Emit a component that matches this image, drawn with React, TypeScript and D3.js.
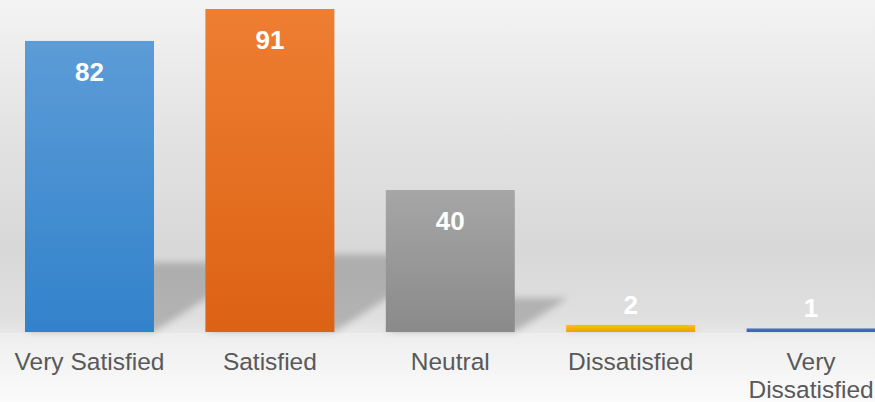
import React from "react";
import * as d3 from "d3";

const categories = ["Very Satisfied", "Satisfied", "Neutral", "Dissatisfied", "Very Dissatisfied"];
const values = [82, 91, 40, 2, 1];
const topColors = ["#5c9cd7", "#ee7e32", "#a6a6a6", "#ffc000", "#4673c6"];
const bottomColors = ["#3282cb", "#dc6214", "#8a8a8a", "#e3a600", "#3b62ae"];

const W = 875;
const H = 402;
const BASE = 332;

export default function App() {
  const x = d3
    .scaleBand<string>()
    .domain(categories)
    .range([-0.7, 901.3])
    .paddingInner(0.285)
    .paddingOuter(0.1425);
  const y = d3.scaleLinear().domain([0, 91]).range([BASE, 9]);
  const bw = x.bandwidth();
  const font = "'Century Gothic', 'Liberation Sans', Arial, sans-serif";

  return (
    <svg
      width={W}
      height={H}
      style={{ position: "absolute", left: 0, top: 0, display: "block" }}
    >
      <defs>
        <linearGradient id="bg" x1="0" y1="0" x2="0" y2="1">
          <stop offset="0" stopColor="#f3f3f3" />
          <stop offset="0.35" stopColor="#e2e2e2" />
          <stop offset="0.62" stopColor="#d8d8d8" />
          <stop offset="0.79" stopColor="#dfdfdf" />
          <stop offset="0.826" stopColor="#e6e6e6" />
          <stop offset="0.83" stopColor="#eeeeee" />
          <stop offset="1" stopColor="#fbfbfb" />
        </linearGradient>
        <filter id="blur" x="-0.3" y="-0.3" width="1.6" height="1.6">
          <feGaussianBlur stdDeviation="3.5" />
        </filter>
        {categories.map((c, i) => (
          <linearGradient key={c} id={`g${i}`} x1="0" y1="0" x2="0" y2="1">
            <stop offset="0" stopColor={topColors[i]} />
            <stop offset="1" stopColor={bottomColors[i]} />
          </linearGradient>
        ))}
      </defs>
      <rect x={0} y={0} width={W} height={H} fill="url(#bg)" />
      <g filter="url(#blur)">
        {categories.map((c, i) => {
          const x0 = x(c)!;
          const x1 = x0 + bw;
          const bh = BASE - y(values[i]);
          const h = 0.24 * bh;
          const dx = 1.55 * h;
          const p = d3.path();
          p.moveTo(x0, BASE);
          p.lineTo(x1, BASE);
          p.lineTo(x1 + dx, BASE - h);
          p.lineTo(x0 + dx, BASE - h);
          p.closePath();
          return <path key={c} d={p.toString()} fill="#000" fillOpacity={0.2} />;
        })}
      </g>
      {categories.map((c, i) => (
        <rect
          key={c}
          x={x(c)}
          y={y(values[i])}
          width={bw}
          height={BASE - y(values[i])}
          fill={`url(#g${i})`}
        />
      ))}
      {categories.map((c, i) => {
        const top = y(values[i]);
        const inside = BASE - top > 40;
        return (
          <text
            key={c}
            x={x(c)! + bw / 2}
            y={inside ? top + 40 : top - 11}
            textAnchor="middle"
            fill="#ffffff"
            fontFamily={font}
            fontWeight="bold"
            fontSize={26}
          >
            {values[i]}
          </text>
        );
      })}
      {categories.map((c) => {
        const words = c === "Very Dissatisfied" ? ["Very", "Dissatisfied"] : [c];
        return (
          <text
            key={c}
            x={x(c)! + bw / 2}
            y={369.5}
            textAnchor="middle"
            fill="#595959"
            fontFamily={font}
            fontSize={24.5}
          >
            {words.map((w, k) => (
              <tspan key={w} x={x(c)! + bw / 2} dy={k === 0 ? 0 : 28}>
                {w}
              </tspan>
            ))}
          </text>
        );
      })}
    </svg>
  );
}
